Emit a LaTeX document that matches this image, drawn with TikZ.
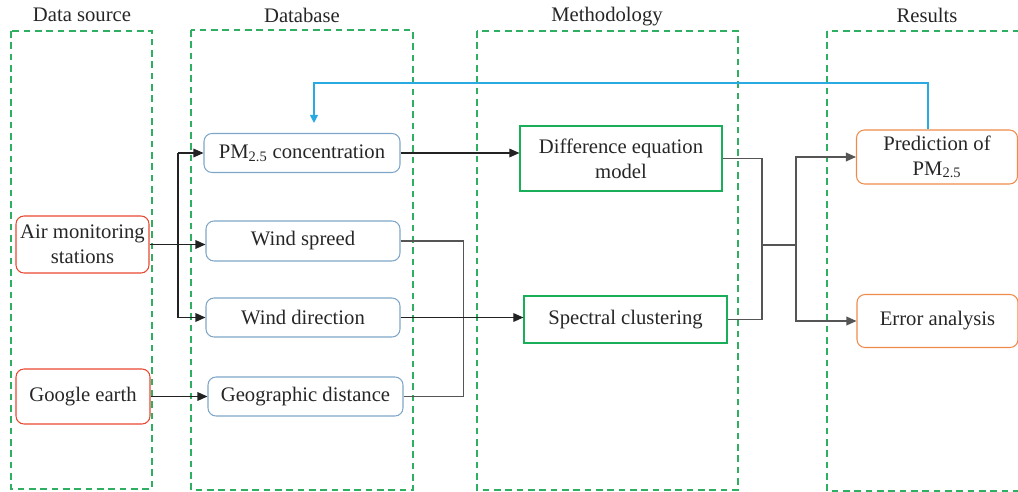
\documentclass[tikz,border=0pt]{standalone}
\usepackage{fontspec}
\setmainfont{Liberation Serif}
\usetikzlibrary{arrows.meta,calc}
\definecolor{dgreen}{HTML}{2EAF62}
\definecolor{bgrey}{HTML}{7EA6C8}
\definecolor{rred}{HTML}{E8462F}
\definecolor{oorange}{HTML}{F08A4B}
\definecolor{bgreen}{HTML}{1AAD5A}
\definecolor{fblue}{HTML}{29ABE2}
\definecolor{dline}{HTML}{222222}
\definecolor{gline}{HTML}{555555}
\tikzset{
  lane/.style={draw=dgreen,line width=1.1pt,dash pattern=on 5pt off 3.5pt},
  title/.style={font=\fontsize{15.5}{18.5}\selectfont,text=black!85},
  basebox/.style={font=\fontsize{15.5}{18.5}\selectfont,align=center,inner sep=1pt,text=black!85},
  dbbox/.style={basebox,draw=bgrey,line width=0.8pt,rounded corners=6pt},
  srcbox/.style={basebox,draw=rred,line width=0.8pt,rounded corners=6pt},
  resbox/.style={basebox,draw=oorange,line width=0.8pt,rounded corners=6pt},
  methbox/.style={basebox,draw=bgreen,line width=0.9pt},
  conn/.style={draw=dline,line width=0.8pt},
  gconn/.style={draw=gline,line width=1pt},
  arr/.style={conn,-{Triangle[length=7.5pt,width=6.5pt]}},
  garr/.style={gconn,-{Triangle[length=7.5pt,width=6.5pt]}},
  fb/.style={draw=fblue,line width=0.8pt,-{Triangle[length=6pt,width=6pt]}},
}
\begin{document}
\begin{tikzpicture}[x=0.75pt,y=-0.75pt]
\useasboundingbox (0,0) rectangle (1018,492);
% lanes
\draw[lane] (11,31) rectangle (152,489);
\draw[lane] (191,30) rectangle (413,490);
\draw[lane] (477,31) rectangle (738,490);
\draw[lane] (827,31) rectangle (1030,491);
% titles
\node[title] (t1) at (82,15) {Data source};
\node[title] (t2) at (302,15) {Database};
\node[title] (t3) at (607,17) {Methodology};
\node[title] (t4) at (927,15) {Results};
% nodes
\node[srcbox,minimum width=133*0.75pt,minimum height=57*0.75pt] (air) at (82.5,244.5) {Air monitoring\\stations};
\node[srcbox,minimum width=134*0.75pt,minimum height=55*0.75pt] (ge) at (83,396.5) {Google earth};
\node[dbbox,minimum width=196*0.75pt,minimum height=39*0.75pt] (pm) at (302,153) {PM\textsubscript{2.5} concentration};
\node[dbbox,minimum width=194*0.75pt,minimum height=40*0.75pt] (ws) at (303,241) {Wind spreed};
\node[dbbox,minimum width=194*0.75pt,minimum height=39*0.75pt] (wd) at (303,317.5) {Wind direction};
\node[dbbox,minimum width=195*0.75pt,minimum height=39*0.75pt] (gd) at (305.5,396.5) {Geographic distance};
\node[methbox,minimum width=202*0.75pt,minimum height=65*0.75pt] (de) at (621,158.5) {Difference equation\\model};
\node[methbox,minimum width=203*0.75pt,minimum height=47*0.75pt] (sc) at (625.5,319.5) {Spectral clustering};
\node[resbox,minimum width=161*0.75pt,minimum height=54*0.75pt] (pr) at (937,157) {Prediction of\\PM\textsubscript{2.5}};
\node[resbox,minimum width=161*0.75pt,minimum height=53*0.75pt] (ea) at (937.5,321) {Error analysis};
% coordinates
\coordinate (bA) at (178,153);
\coordinate (bB) at (178,317.5);
\coordinate (jn) at (762,245);
\coordinate (jr) at (796,245);
\coordinate (fbt) at (314,83);
% connectors
\draw[arr] (air.east) -- (air.east -| ws.west);
\draw[conn] (bA) -- (bB);
\draw[arr] (bA) -- (pm.west);
\draw[arr] (bB) -- (wd.west);
\draw[arr] (ge.east) -- (gd.west);
\draw[arr] (pm.east) -- (pm.east -| de.west);
\draw[gconn] (ws.east) -- ++(63,0) |- (gd.east);
\draw[arr] (wd.east) -- (wd.east -| sc.west);
\draw[gconn] (de.east) -| (jn);
\draw[gconn] (sc.east) -| (jn);
\draw[gconn] (jn) -- (jr);
\draw[garr] (jr) |- (pr.west);
\draw[garr] (jr) |- (ea.west);
\draw[fb,shorten >=7.5pt] ($(pr.north)+(-9,0)$) |- (fbt) -- (fbt |- pm.north);
\end{tikzpicture}
\end{document}
